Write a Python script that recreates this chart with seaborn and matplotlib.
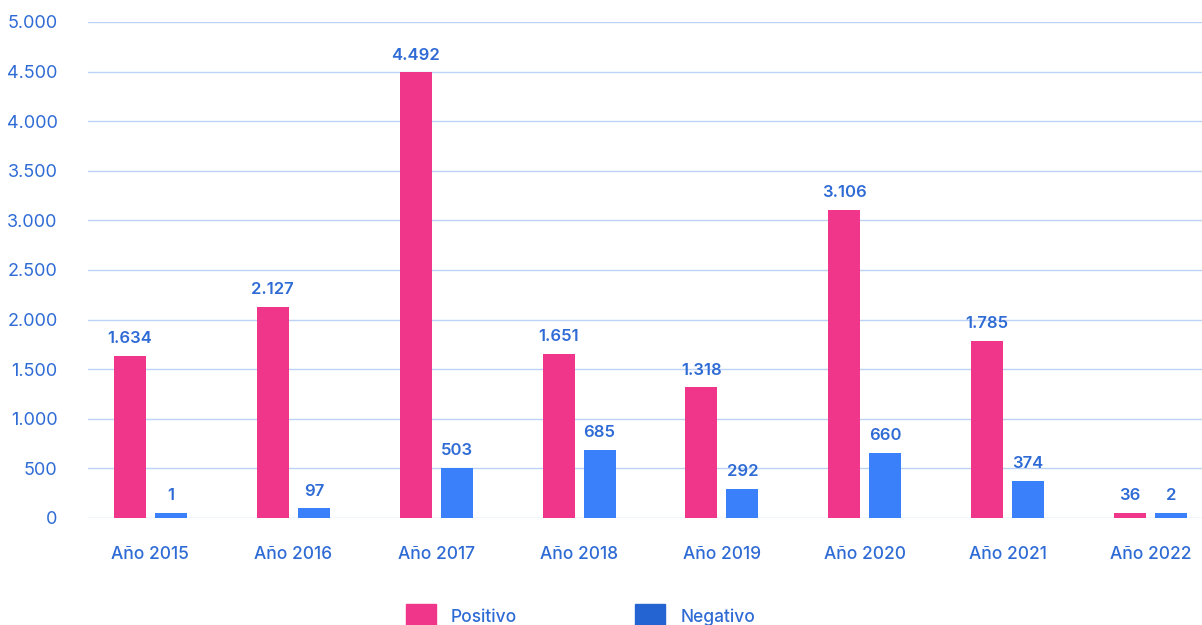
import seaborn as sns
import pandas as pd
import matplotlib.pyplot as plt
from matplotlib.patches import Patch
import numpy as np

# data
years = ['Año 2015', 'Año 2016', 'Año 2017', 'Año 2018',
         'Año 2019', 'Año 2020', 'Año 2021', 'Año 2022']
positivo = [1634, 2127, 4492, 1651, 1318, 3106, 1785, 36]
negativo = [1, 97, 503, 685, 292, 660, 374, 2]
series = ['Positivo', 'Negativo']

PINK = '#f0368a'
BLUE = '#3b80fb'
BLUE_LEG = '#2364d2'
TXT = '#2f6bd5'
GRID = '#bcd3f6'
MIN_BAR = 50  # minimum visible bar length, like the original chart

def fmt(v):
    return '{:,}'.format(int(v)).replace(',', '.')

df = pd.DataFrame({
    'year': years * 2,
    'serie': ['Positivo'] * len(years) + ['Negativo'] * len(years),
    'valor': positivo + negativo,
})
df['alto'] = np.maximum(df['valor'], MIN_BAR)

sns.set_style('white')
plt.rcParams['font.family'] = ['Inter', 'DejaVu Sans']

fig = plt.figure(figsize=(12.02, 6.25), dpi=100)
ax = fig.add_axes([88 / 1202, 1 - 518 / 625, 1 - 88 / 1202, 496 / 625])

sns.barplot(data=df, x='year', y='alto', hue='serie', hue_order=series,
            palette=[PINK, BLUE], width=0.574, gap=0.22, saturation=1,
            linewidth=0, legend=False, ax=ax)

# value labels
for cont, serie in zip(ax.containers, series):
    vals = df[df['serie'] == serie]['valor'].tolist()
    for bar, v in zip(cont, vals):
        ax.annotate(fmt(v), (bar.get_x() + bar.get_width() / 2, bar.get_height()),
                    xytext=(0, 7), textcoords='offset points',
                    ha='center', va='bottom', color=TXT, fontsize=12,
                    fontweight='semibold')

ax.set_xlim(-0.437, 7.36)
ax.set_ylim(0, 5000)
ax.set_yticks(range(0, 5001, 500))
ax.set_yticklabels([fmt(t) for t in range(0, 5001, 500)])
ax.yaxis.grid(True, color=GRID, linewidth=1)
ax.set_axisbelow(True)
for s in ax.spines.values():
    s.set_visible(False)
ax.tick_params(axis='both', length=0, colors=TXT)
ax.tick_params(axis='y', pad=22, labelsize=13)
ax.tick_params(axis='x', pad=20, labelsize=12.5)
for lab in ax.get_xticklabels():
    lab.set_fontweight('medium')
ax.set_xlabel('')
ax.set_ylabel('')

handles = [Patch(color=PINK), Patch(color=BLUE_LEG)]
leg = fig.legend(handles, series, loc='center left', bbox_to_anchor=(390 / 1202, 0.014),
                 ncol=2, frameon=False, fontsize=12.5, handlelength=1.75,
                 handleheight=1.8, columnspacing=6.8, handletextpad=0.85)
for t in leg.get_texts():
    t.set_color(TXT)
    t.set_fontweight('medium')

fig.savefig('out.png', dpi=100)
